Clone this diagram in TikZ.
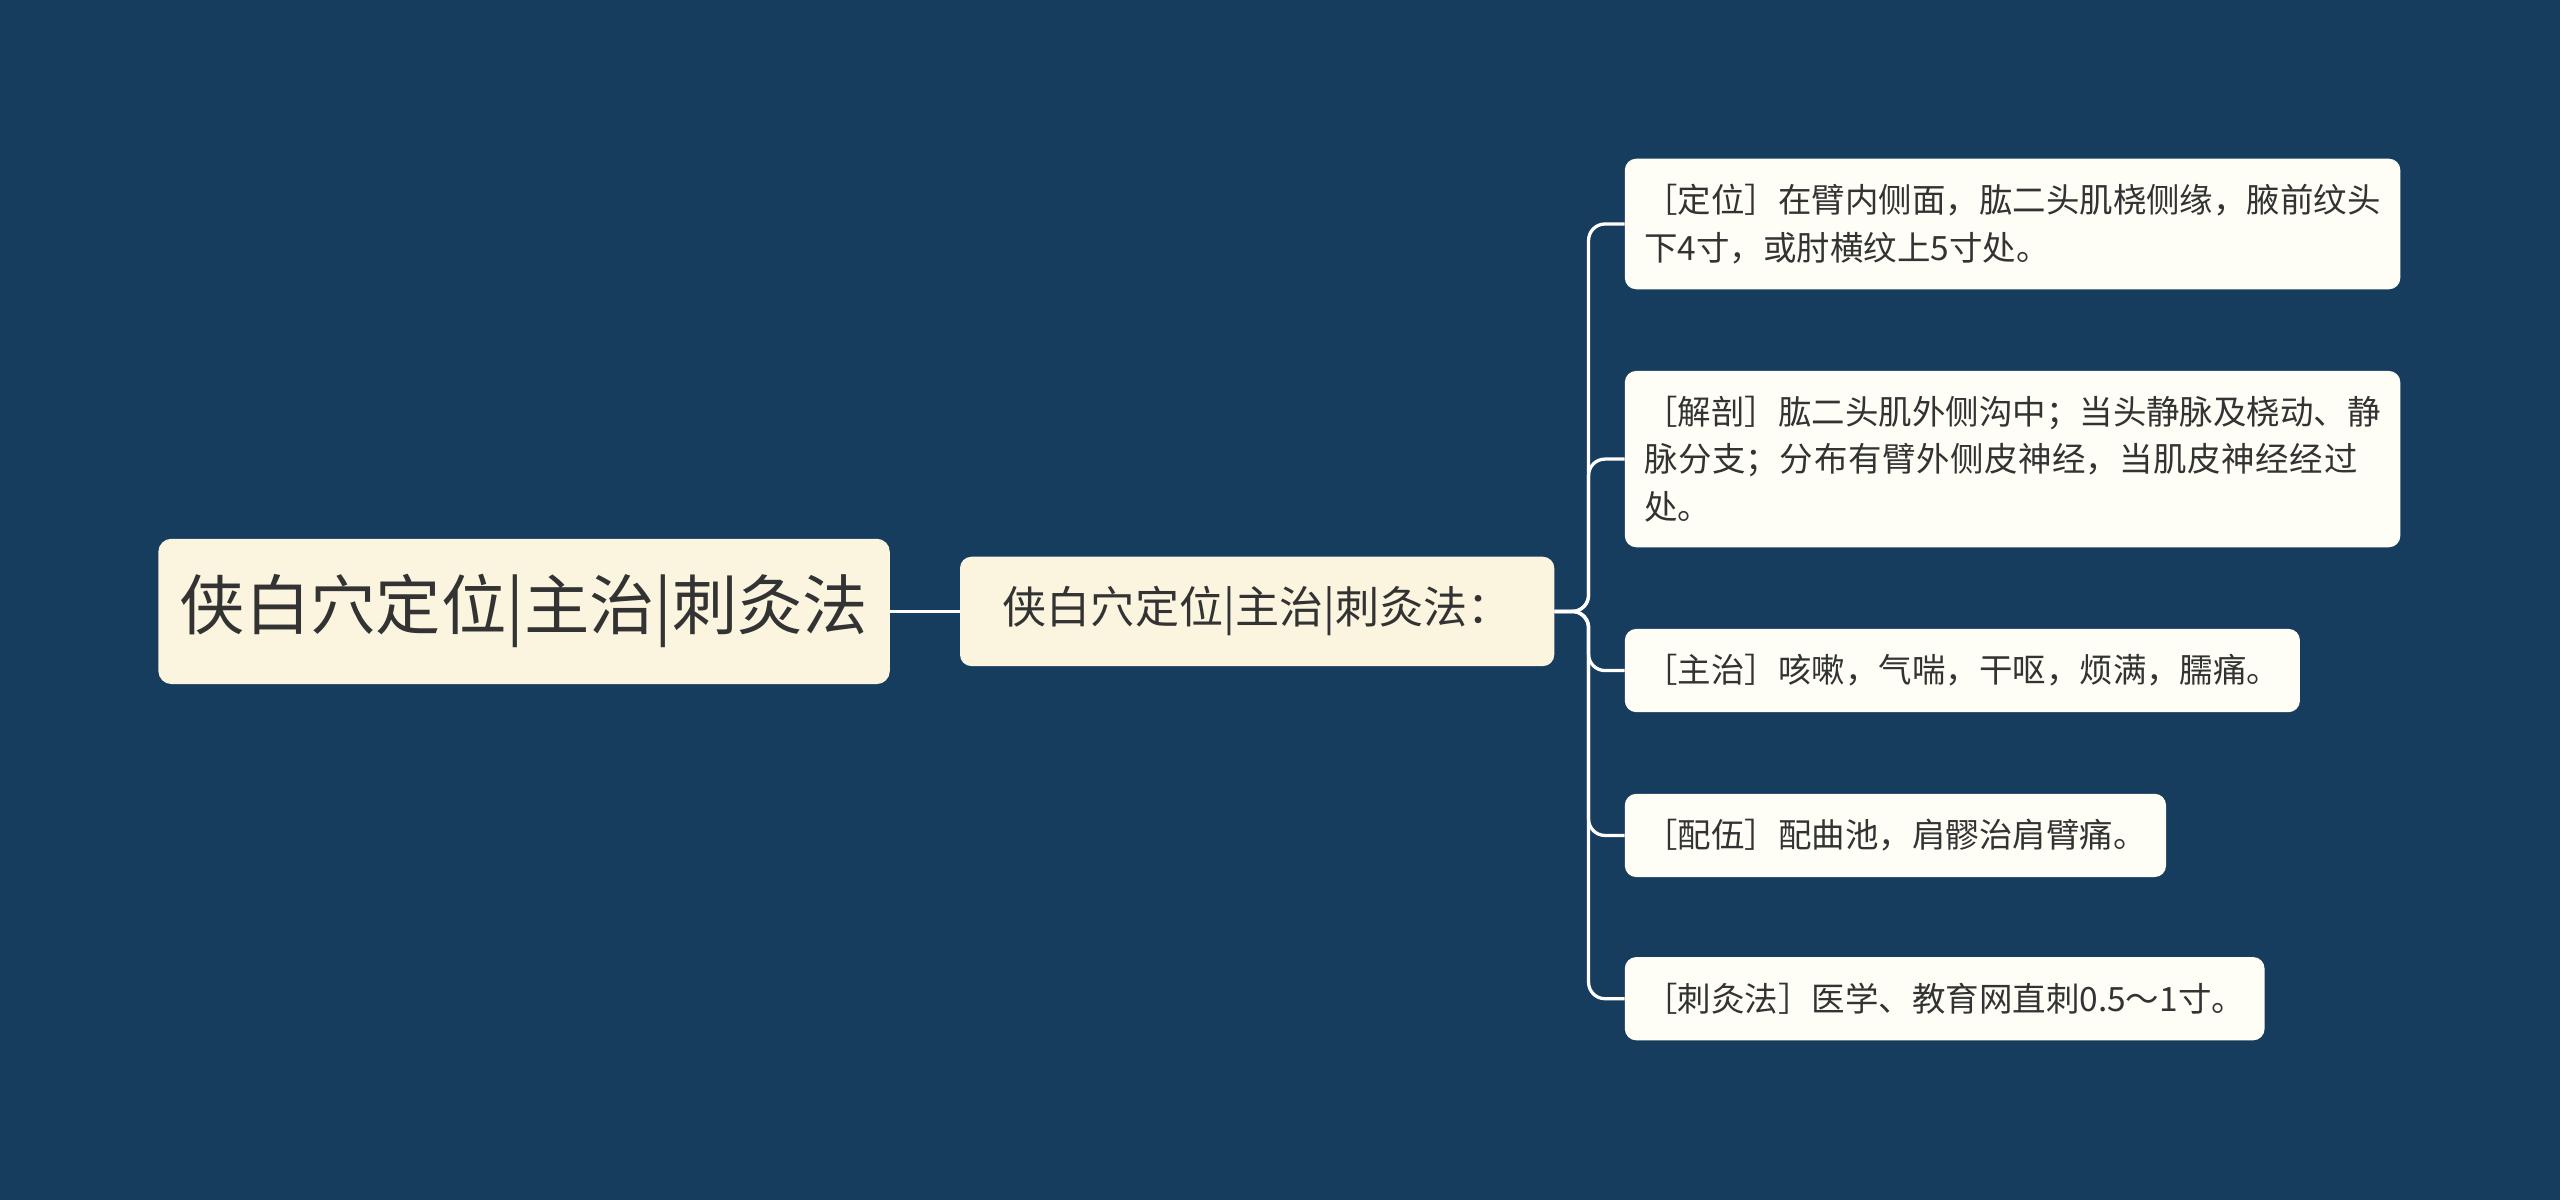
\documentclass[tikz,border=0pt]{standalone}
\usepackage{fontspec}
\setmainfont{Noto Sans CJK SC}
\XeTeXlinebreaklocale "zh"
\XeTeXlinebreakskip=0pt plus 1pt
\definecolor{bg}{HTML}{173D5E}
\definecolor{cream}{HTML}{FBF5E0}
\definecolor{leaf}{HTML}{FFFEF6}
\definecolor{txt}{HTML}{333333}
\begin{document}
\begin{tikzpicture}[x=1pt,y=-1pt,
  rootbox/.style={fill=cream,rounded corners=8pt,minimum width=448pt,minimum height=89pt,font=\fontsize{40}{46}\selectfont,text=txt},
  midbox/.style={fill=cream,rounded corners=7pt,minimum width=364pt,minimum height=67pt,font=\fontsize{27}{32}\selectfont,text=txt},
  leafbox/.style={fill=leaf,rounded corners=7pt,anchor=north west,inner xsep=12pt,inner ysep=10pt,font=\fontsize{20.5}{29}\selectfont,text=txt,align=left},
  conn/.style={draw=white,line width=2pt,rounded corners=10pt}]
\fill[bg] (0,0) rectangle (1568,735);
\useasboundingbox (0,0) rectangle (1568,735);
\node[rootbox] (r) at (321,374.5) {侠白穴定位|主治|刺灸法};
\node[midbox] (m) at (770,374.5) {侠白穴定位|主治|刺灸法：};
\node[leafbox,text width=451pt,minimum height=80pt] (l1) at (995,97) {［定位］在臂内侧面，肱二头肌桡侧缘，腋前纹头下4寸，或肘横纹上5寸处。};
\node[leafbox,text width=451pt,minimum height=108pt] (l2) at (995,227) {［解剖］肱二头肌外侧沟中；当头静脉及桡动、静脉分支；分布有臂外侧皮神经，当肌皮神经经过处。};
\node[leafbox,minimum height=51pt] (l3) at (995,385) {［主治］咳嗽，气喘，干呕，烦满，臑痛。};
\node[leafbox,minimum height=51pt] (l4) at (995,486) {［配伍］配曲池，肩髎治肩臂痛。};
\node[leafbox,minimum height=51pt] (l5) at (995,586) {［刺灸法］医学、教育网直刺0.5～1寸。};
\coordinate (j) at (973,374.5);
\draw[conn] (r.east) -- (m.west);
\foreach \n in {l1,l2,l3,l4,l5}{\draw[conn] (m.east) -- (j) |- (\n.west);}
\end{tikzpicture}
\end{document}
